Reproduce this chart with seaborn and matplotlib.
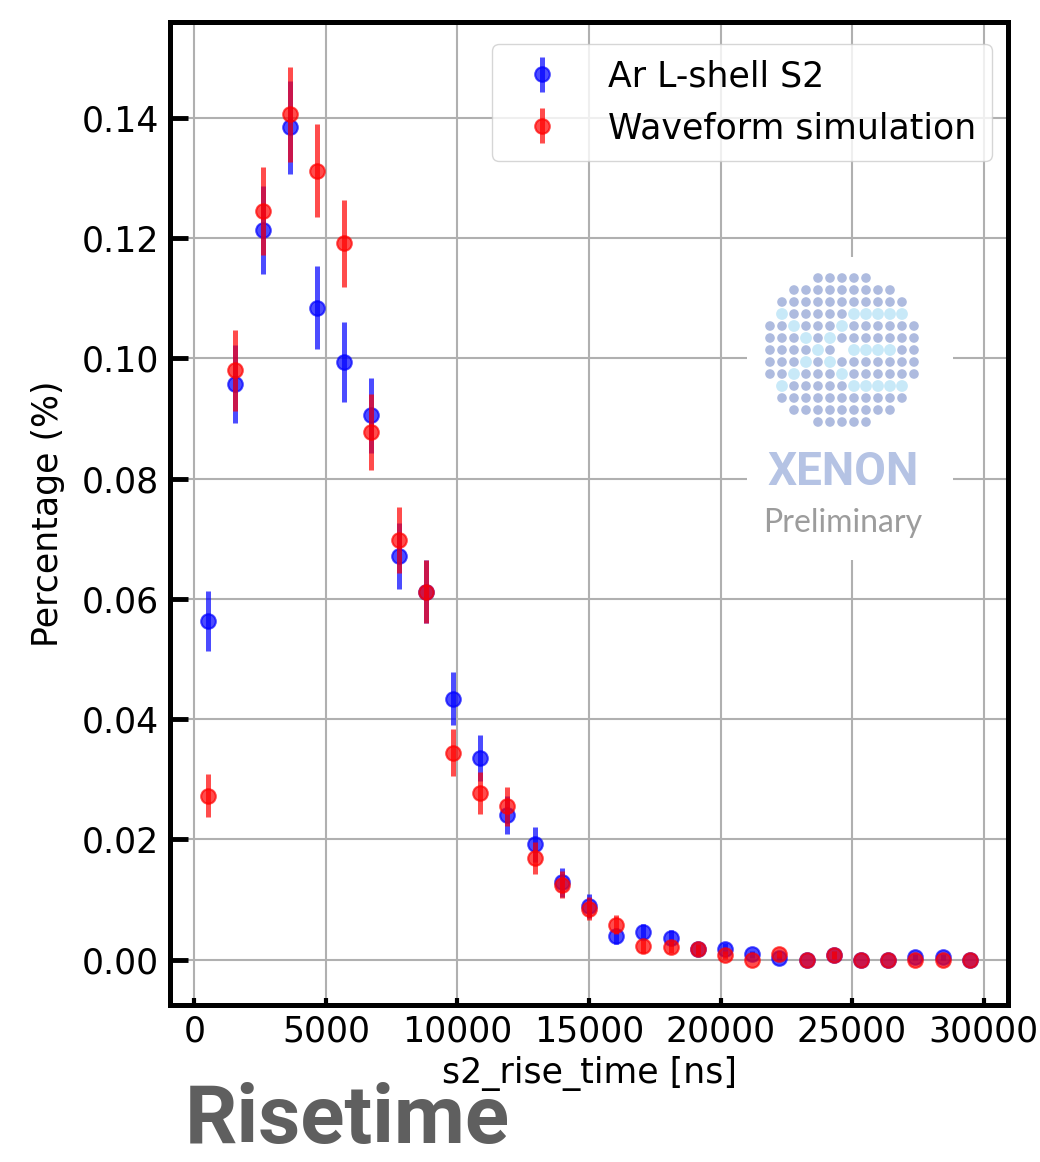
import numpy as np
import matplotlib
matplotlib.use("Agg")
import matplotlib.pyplot as plt
import seaborn as sns

# ---- data ----
rise_time_ns = [517, 1552, 2586, 3621, 4655, 5690, 6724, 7759, 8793, 9828,
                10862, 11897, 12931, 13966, 15000, 16034, 17069, 18103, 19138, 20172,
                21207, 22241, 23276, 24310, 25345, 26379, 27414, 28448, 29483]
ar_lshell = [0.0563, 0.0958, 0.1214, 0.1384, 0.1084, 0.0994, 0.0905, 0.0672, 0.0612, 0.0434,
             0.0336, 0.0241, 0.0192, 0.0129, 0.0089, 0.0039, 0.0046, 0.0036, 0.0017, 0.0018,
             0.0009, 0.0003, 0.0, 0.0008, 0.0, 0.0, 0.0005, 0.0005, 0.0]
ar_lshell_err = [0.0050, 0.0065, 0.0073, 0.0078, 0.0069, 0.0066, 0.0063, 0.0055, 0.0052, 0.0044,
                 0.0038, 0.0032, 0.0029, 0.0024, 0.0020, 0.0013, 0.0014, 0.0013, 0.0009, 0.0009,
                 0.0006, 0.0004, 0.0, 0.0006, 0.0, 0.0, 0.0005, 0.0005, 0.0]
wf_sim = [0.0273, 0.0980, 0.1245, 0.1406, 0.1312, 0.1191, 0.0878, 0.0698, 0.0612, 0.0344,
          0.0277, 0.0255, 0.0169, 0.0125, 0.0085, 0.0058, 0.0022, 0.0021, 0.0017, 0.0008,
          0.0, 0.0009, 0.0, 0.0008, 0.0, 0.0, 0.0, 0.0, 0.0]
wf_sim_err = [0.0035, 0.0067, 0.0073, 0.0079, 0.0077, 0.0072, 0.0063, 0.0055, 0.0052, 0.0039,
              0.0035, 0.0033, 0.0027, 0.0023, 0.0019, 0.0016, 0.0010, 0.0010, 0.0009, 0.0006,
              0.0, 0.0006, 0.0, 0.0006, 0.0, 0.0, 0.0, 0.0, 0.0]
series_labels = ["Ar L-shell S2", "Waveform simulation"]
xticks = [0, 5000, 10000, 15000, 20000, 25000, 30000]
yticks = [0.00, 0.02, 0.04, 0.06, 0.08, 0.10, 0.12, 0.14]

# ---- style ----
sns.set_theme(style="whitegrid")
plt.rcParams['font.family'] = ['DejaVu Sans']
plt.rcParams['text.color'] = 'black'
plt.rcParams['axes.labelcolor'] = 'black'

W, H = 1040, 1162
fig = plt.figure(figsize=(W / 100, H / 100), dpi=100)
ax = fig.add_axes([170 / W, 1 - 1005 / H, (1008 - 170) / W, (1005 - 22) / H])
ax.set_facecolor('white')

ax.errorbar(rise_time_ns, ar_lshell, yerr=ar_lshell_err, fmt='o', color='blue',
            alpha=0.7, markersize=10.5, elinewidth=3.6, mew=1.5, capsize=0,
            label=series_labels[0], zorder=3)
ax.errorbar(rise_time_ns, wf_sim, yerr=wf_sim_err, fmt='o', color='red',
            alpha=0.7, markersize=10.5, elinewidth=3.6, mew=1.5, capsize=0,
            label=series_labels[1], zorder=4)

ax.set_xticks(xticks)
ax.set_yticks(yticks)
ax.yaxis.set_major_formatter(matplotlib.ticker.FormatStrFormatter('%.2f'))
ax.grid(True, color='#b0b0b0', linewidth=1.5)
ax.set_axisbelow(True)

for s in ax.spines.values():
    s.set_color('black')
    s.set_linewidth(3.6)

ax.tick_params(axis='y', direction='in', length=13, width=3.5, labelsize=25,
               left=True, right=False, color='black', pad=8, labelcolor='black')
ax.tick_params(axis='x', direction='in', length=5, width=3, labelsize=25,
               bottom=True, top=False, color='black', pad=7, labelcolor='black')

ax.set_xlabel('s2_rise_time [ns]', fontsize=25, color='black', labelpad=5)
ax.set_ylabel('Percentage (%)', fontsize=25, color='black', labelpad=12)

leg = ax.legend(loc='upper right', bbox_to_anchor=(0.981, 0.9776), borderaxespad=0,
                fontsize=25, frameon=True, framealpha=0.8, edgecolor='0.8',
                fancybox=True, borderpad=0.45, handletextpad=0.9)
for t in leg.get_texts():
    t.set_color('black')

# ---- logo (decoration) ----
lx0, lx1, ly0, ly1 = 747, 953, 257, 560
lax = fig.add_axes([lx0 / W, 1 - ly1 / H, (lx1 - lx0) / W, (ly1 - ly0) / H], zorder=5)
lax.set_xlim(lx0, lx1)
lax.set_ylim(ly1, ly0)
lax.set_facecolor('white')
lax.grid(False)
lax.set_xticks([])
lax.set_yticks([])
for s in lax.spines.values():
    s.set_visible(False)

cx, cy, step = 842, 350, 12
half = {6: 2, 5: 4, 4: 5, 3: 5, 2: 6, 1: 6, 0: 6}
dark_pts, light_pts = [], []
for r in range(-6, 7):
    hw = half[abs(r)]
    for c in range(-hw, hw + 1):
        is_light = (abs(r) <= 3 and (c == -2 - abs(r) or c == -2 + abs(r))) \
            or (abs(r) == 3 and 1 <= c <= 5) or (r == 0 and 1 <= c <= 4)
        if r == 0 and c == 0:
            continue
        (light_pts if is_light else dark_pts).append((cx + c * step, cy + r * step))
dp = np.array(dark_pts)
lp = np.array(light_pts)
lax.scatter(dp[:, 0], dp[:, 1], s=48, color='#aab8de', edgecolor='none', alpha=0.95)
lax.scatter(lp[:, 0], lp[:, 1], s=72, color='#c8e9f8', edgecolor='none')
lax.text(843, 472, 'XENON', fontsize=33, fontweight='bold', color='#b5c3e4',
         ha='center', va='center', family=['Roboto', 'DejaVu Sans'])
lax.text(843, 523, 'Preliminary', fontsize=23, color='#9c9c9c',
         ha='center', va='center', family=['Lato', 'DejaVu Sans'])

fig.text(185 / W, 2 / H, 'Risetime', fontsize=59, fontweight='bold',
         color='#5f5f5f', ha='left', va='bottom', family=['Roboto', 'DejaVu Sans'])

fig.savefig('out.png', dpi=100)
